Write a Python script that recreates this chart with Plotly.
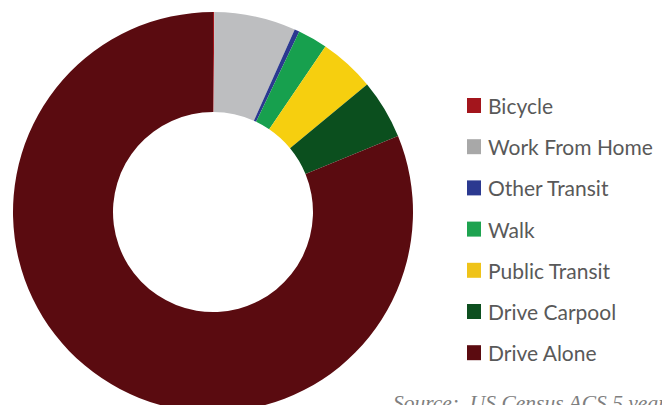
import plotly.graph_objects as go

labels = ["Bicycle", "Work From Home", "Other Transit", "Walk",
          "Public Transit", "Drive Carpool", "Drive Alone"]
values = [0.1, 6.6, 0.4, 2.4, 4.5, 4.8, 81.2]
colors = ["#A3151C", "#BDBEC0", "#2B3990", "#17A04E",
          "#F6CF0F", "#0B4F1E", "#5A0B10"]
legend_colors = ["#A3151C", "#A8A8A8", "#2B3990", "#1EA350",
                 "#EFC319", "#0D4F1F", "#5B0B10"]
source_text = "Source:  US Census ACS 5 year"

W, H = 670, 425
OFF = 8  # page body margin
cx, cy, r = 213 - OFF, 212 - OFF, 200


def px(x):
    return (x - OFF) / W


def py(y):
    return 1 - (y - OFF) / H


fig = go.Figure(go.Pie(
    labels=labels, values=values, hole=0.5, sort=False,
    direction="clockwise", rotation=0,
    marker=dict(colors=colors, line=dict(width=0)),
    textinfo="none", showlegend=False,
    domain=dict(x=[(cx - r) / W, (cx + r) / W],
                y=[1 - (cy + r) / H, 1 - (cy - r) / H]),
))

shapes, annotations = [], []
y0, dy = 105.5, 41.2
for i, (lab, col) in enumerate(zip(labels, legend_colors)):
    y = y0 + i * dy
    shapes.append(dict(type="rect", xref="paper", yref="paper",
                       x0=px(467), x1=px(481),
                       y0=py(y - 7.5), y1=py(y + 7.5),
                       fillcolor=col, line=dict(width=0)))
    annotations.append(dict(text=lab, xref="paper", yref="paper",
                            x=px(486), y=py(y), xanchor="left",
                            yanchor="middle", showarrow=False,
                            font=dict(family="Lato", size=21, color="#595959")))
annotations.append(dict(text=source_text, xref="paper", yref="paper",
                        x=px(391), y=py(389), xanchor="left", yanchor="top",
                        showarrow=False,
                        font=dict(family="Liberation Serif", size=21.5,
                                  color="#7F7F7F", style="italic")))

fig.update_layout(width=W, height=H, margin=dict(l=0, r=0, t=0, b=0),
                  paper_bgcolor="white", plot_bgcolor="white",
                  shapes=shapes, annotations=annotations)
fig.write_html("out.html")
